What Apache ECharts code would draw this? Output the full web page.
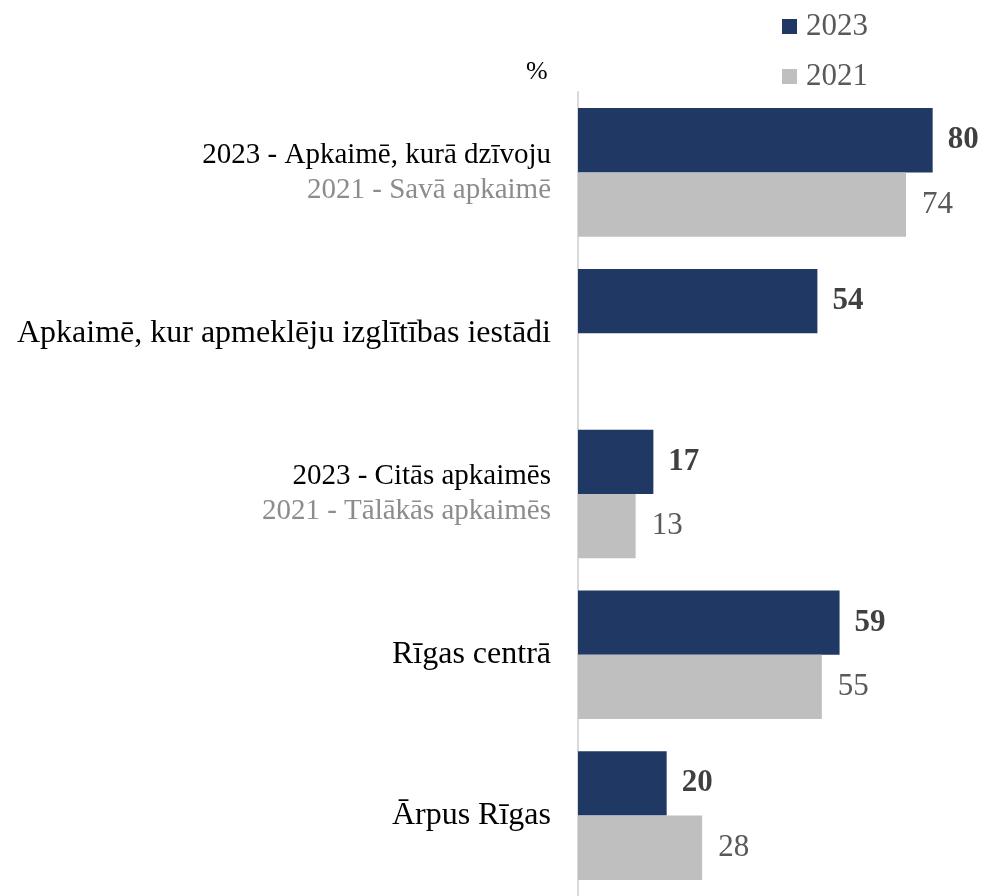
<!DOCTYPE html>
<html><head><meta charset="utf-8">
<script src="https://cdn.jsdelivr.net/npm/echarts@6/dist/echarts.min.js"></script>
<style>html,body{margin:0;padding:0;background:#fff}#c{width:984px;height:896px}</style>
</head><body><div id="c"></div>
<script>
const categories = [
  "{a|2023 - Apkaimē, kurā dzīvoju}\n{b|2021 - Savā apkaimē}",
  "{c|Apkaimē, kur apmeklēju izglītības iestādi}",
  "{a|2023 - Citās apkaimēs}\n{b|2021 - Tālākās apkaimēs}",
  "{c|Rīgas centrā}",
  "{c|Ārpus Rīgas}"
];
const values2023 = [80, 54, 17, 59, 20];
const values2021 = [74, null, 13, 55, 28];
const seriesNames = ["2023", "2021"];

const FONT = "'Liberation Serif', 'Times New Roman', serif";
const chart = echarts.init(document.getElementById('c'));
chart.setOption({
  animation: false,
  textStyle: { fontFamily: FONT },
  legend: {
    orient: 'vertical', left: 777, top: 6, itemGap: 19,
    itemWidth: 15, itemHeight: 15, icon: 'rect',
    textStyle: { fontFamily: FONT, fontSize: 31, color: '#595959', padding: [0, 0, 0, 4] },
    data: seriesNames
  },
  graphic: [{ type: 'text', left: 526, top: 59, style: { text: '%', font: "26px " + FONT, fill: '#000' } }],
  grid: { left: 578, top: 92, width: 399, bottom: 0, containLabel: false },
  xAxis: { type: 'value', min: 0, max: 90, show: false },
  yAxis: {
    type: 'category', inverse: true, data: categories,
    axisLine: { show: true, lineStyle: { color: '#d9d9d9', width: 2 } },
    axisTick: { show: false },
    axisLabel: {
      margin: 27, align: 'right',
      rich: {
        a: { fontFamily: FONT, fontSize: 29, color: '#000', lineHeight: 35, align: 'right' },
        b: { fontFamily: FONT, fontSize: 29, color: '#8c8c8c', lineHeight: 35, align: 'right' },
        c: { fontFamily: FONT, fontSize: 32, color: '#000', lineHeight: 36, align: 'right' }
      }
    }
  },
  series: [
    { name: seriesNames[0], type: 'bar', data: values2023, barGap: '0%', barCategoryGap: '20%',
      itemStyle: { color: '#203864' },
      label: { show: true, position: 'right', distance: 15, fontFamily: FONT, fontSize: 31, fontWeight: 'bold', color: '#404040' } },
    { name: seriesNames[1], type: 'bar', data: values2021,
      itemStyle: { color: '#bfbfbf' },
      label: { show: true, position: 'right', distance: 16, fontFamily: FONT, fontSize: 31, color: '#595959' } }
  ]
});
</script></body></html>
